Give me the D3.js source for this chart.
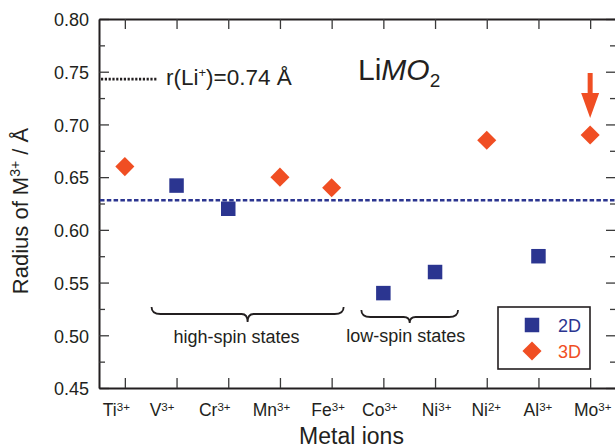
<!DOCTYPE html>
<html><head><meta charset="utf-8">
<title>LiMO2 radii</title>
<script src="https://cdn.jsdelivr.net/npm/d3@7"></script>
<style>
body { margin: 0; background: white; }
svg text { font-family: "Liberation Sans", Arial, sans-serif; fill: #231f20; }
</style>
</head><body>
<svg id="chart" width="615" height="448"></svg>

<script>
// ---- data ----
var ions = ["Ti3+", "V3+", "Cr3+", "Mn3+", "Fe3+", "Co3+", "Ni3+", "Ni2+", "Al3+", "Mo3+"];

var ions2D  = ["V3+", "Cr3+", "Co3+", "Ni3+", "Al3+"];
var radii2D = [0.642, 0.620, 0.540, 0.560, 0.575];

var ions3D  = ["Ti3+", "Mn3+", "Fe3+", "Ni2+", "Mo3+"];
var radii3D = [0.660, 0.650, 0.640, 0.685, 0.690];

var yMajor = [0.45, 0.50, 0.55, 0.60, 0.65, 0.70, 0.75, 0.80];
var yMinor = [0.475, 0.525, 0.575, 0.625, 0.675, 0.725, 0.775];

var boundaryLine = 0.628;      // blue dashed 2D/3D boundary
var liLine = 0.743;            // dotted r(Li+) marker
var liLabel = "0.74";

var highSpin = ["V3+", "Fe3+"];
var lowSpin  = ["Co3+", "Ni3+"];
var arrowIon = "Mo3+";

var seriesNames = ["2D", "3D"];

// ---- layout ----
var navy = "#2b3590", orange = "#f04e23";
var m = { left: 99, right: 616, top: 19, bottom: 388 };

var svg = d3.select("#chart");

var x = d3.scalePoint().domain(ions).range([m.left, m.right]).padding(0.5);
var y = d3.scaleLinear().domain([0.45, 0.80]).range([m.bottom, m.top]);

function styleAxis(g) {
  g.attr("font-family", null).attr("font-size", null);
  g.select(".domain").attr("stroke", "#231f20").attr("stroke-width", 2);
  g.selectAll(".tick line").attr("stroke", "#3a3a3a").attr("stroke-width", 1.3);
}

// left axis
svg.append("g").attr("transform", "translate(" + m.left + ",0)")
  .call(d3.axisLeft(y).tickValues(yMajor).tickSize(-10).tickSizeOuter(0).tickPadding(10).tickFormat(d3.format(".2f")))
  .call(styleAxis)
  .selectAll(".tick text").attr("font-size", 18).attr("dy", "0.38em");
svg.append("g").attr("transform", "translate(" + m.left + ",0)")
  .call(d3.axisLeft(y).tickValues(yMinor).tickSize(-6).tickSizeOuter(0).tickFormat(""))
  .call(styleAxis).select(".domain").remove();

// right axis
svg.append("g").attr("transform", "translate(" + m.right + ",0)")
  .call(d3.axisRight(y).tickValues(yMajor).tickSize(-10).tickSizeOuter(0).tickFormat(""))
  .call(styleAxis);
svg.append("g").attr("transform", "translate(" + m.right + ",0)")
  .call(d3.axisRight(y).tickValues(yMinor).tickSize(-6).tickSizeOuter(0).tickFormat(""))
  .call(styleAxis).select(".domain").remove();

// top axis
svg.append("g").attr("transform", "translate(0," + m.top + ")")
  .call(d3.axisTop(x).tickSize(-10).tickSizeOuter(0).tickFormat(""))
  .call(styleAxis);

// bottom axis with superscript charges
var labelNudge = [-9, -15, -14, -9, -4, -4, 1, -1, -1, 2];
var gx = svg.append("g").attr("transform", "translate(0," + m.bottom + ")")
  .call(d3.axisBottom(x).tickSize(-10).tickSizeOuter(0).tickPadding(16))
  .call(styleAxis);
gx.selectAll(".tick text").each(function(d, i) {
  var p = d.match(/^([A-Za-z]+)(\d\+)$/);
  var t = d3.select(this).text(null).attr("font-size", 17.5).attr("x", labelNudge[i]);
  t.append("tspan").text(p[1]);
  t.append("tspan").attr("font-size", 11.5).attr("dy", -5).text(p[2]);
});

// axis titles
svg.append("text")
  .attr("x", (m.left + m.right) / 2 - 6).attr("y", 444)
  .attr("text-anchor", "middle").attr("font-size", 23)
  .text("Metal ions");

var yt = svg.append("text")
  .attr("transform", "translate(28," + 211 + ") rotate(-90)")
  .attr("text-anchor", "middle").attr("font-size", 22);
yt.append("tspan").text("Radius of M");
yt.append("tspan").attr("font-size", 14).attr("dy", -8).text("3+");
yt.append("tspan").attr("dy", 8).text(" / Å");

// boundary line
svg.append("line")
  .attr("x1", m.left + 1).attr("x2", m.right)
  .attr("y1", y(boundaryLine)).attr("y2", y(boundaryLine))
  .attr("stroke", navy).attr("stroke-width", 2.5).attr("stroke-dasharray", "4.5,2.3");

// r(Li+) marker
svg.append("line")
  .attr("x1", m.left + 2).attr("x2", m.left + 58)
  .attr("y1", y(liLine)).attr("y2", y(liLine))
  .attr("stroke", "#231f20").attr("stroke-width", 2.8).attr("stroke-dasharray", "2.2,1.6");
var lt = svg.append("text")
  .attr("x", m.left + 67).attr("y", y(liLine) + 6).attr("font-size", 22.5);
lt.append("tspan").text("r(Li");
lt.append("tspan").attr("font-size", 13).attr("dy", -8).text("+");
lt.append("tspan").attr("dy", 8).text(")=" + liLabel + " Å");

// compound label
var ct = svg.append("text").attr("x", 358).attr("y", 80).attr("font-size", 30);
ct.append("tspan").text("Li");
ct.append("tspan").attr("font-style", "italic").text("MO");
ct.append("tspan").attr("font-size", 19).attr("dy", 7).text("2");

// braces
function bracePath(x1, x2, yEnd, yBar, yTip) {
  var xm = (x1 + x2) / 2, r = 9, r2 = 6;
  return "M" + x1 + "," + yEnd +
    "Q" + x1 + "," + yBar + " " + (x1 + r) + "," + yBar +
    "L" + (xm - r2) + "," + yBar +
    "Q" + xm + "," + yBar + " " + xm + "," + yTip +
    "Q" + xm + "," + yBar + " " + (xm + r2) + "," + yBar +
    "L" + (x2 - r) + "," + yBar +
    "Q" + x2 + "," + yBar + " " + x2 + "," + yEnd;
}
var hs1 = x(highSpin[0]) - 25, hs2 = x(highSpin[1]) + 12;
svg.append("path").attr("d", bracePath(hs1, hs2, 307, 314, 322))
  .attr("fill", "none").attr("stroke", "#231f20").attr("stroke-width", 1.8);
svg.append("text").attr("x", (hs1 + hs2) / 2 - 11).attr("y", 343)
  .attr("text-anchor", "middle").attr("font-size", 18).text("high-spin states");

var ls1 = x(lowSpin[0]) - 22, ls2 = x(lowSpin[1]) + 23;
svg.append("path").attr("d", bracePath(ls1, ls2, 310, 317, 323))
  .attr("fill", "none").attr("stroke", "#231f20").attr("stroke-width", 1.8);
svg.append("text").attr("x", (ls1 + ls2) / 2 - 4).attr("y", 342)
  .attr("text-anchor", "middle").attr("font-size", 18).text("low-spin states");

// markers
var square = d3.symbol().type(d3.symbolSquare).size(14.5 * 14.5);
var diamond = d3.symbol().type(d3.symbolSquare).size(13.5 * 13.5);

svg.append("g").selectAll("path")
  .data(ions2D.map(function(k, i) { return { ion: k, r: radii2D[i] }; }))
  .join("path")
  .attr("d", square)
  .attr("transform", function(d) { return "translate(" + x(d.ion) + "," + y(d.r) + ")"; })
  .attr("fill", navy);

svg.append("g").selectAll("path")
  .data(ions3D.map(function(k, i) { return { ion: k, r: radii3D[i] }; }))
  .join("path")
  .attr("d", diamond)
  .attr("transform", function(d) { return "translate(" + x(d.ion) + "," + y(d.r) + ") rotate(45)"; })
  .attr("fill", orange);

// arrow pointing at the Mo3+ point
var ax = x(arrowIon), ay = y(radii3D[ions3D.indexOf(arrowIon)]) - 17;
svg.append("path")
  .attr("d", "M" + (ax - 2.5) + "," + (ay - 45) + "V" + (ay - 25) + "H" + (ax - 9) +
             "L" + ax + "," + ay + "L" + (ax + 9) + "," + (ay - 25) + "H" + (ax + 2.5) + "V" + (ay - 45) + "Z")
  .attr("fill", orange);

// legend
var lg = svg.append("g").attr("transform", "translate(498,307)");
lg.append("rect").attr("width", 92).attr("height", 62)
  .attr("fill", "white").attr("stroke", "#231f20").attr("stroke-width", 1.6);
lg.append("path").attr("d", square).attr("transform", "translate(34,18)").attr("fill", navy);
lg.append("path").attr("d", diamond).attr("transform", "translate(34,44) rotate(45)").attr("fill", orange);
lg.selectAll("text.lbl").data(seriesNames).join("text").attr("class", "lbl")
  .attr("x", 60).attr("y", function(d, i) { return 25 + i * 26; })
  .attr("font-size", 18)
  .style("fill", function(d, i) { return i === 0 ? navy : orange; })
  .text(function(d) { return d; });
</script>
</body></html>
